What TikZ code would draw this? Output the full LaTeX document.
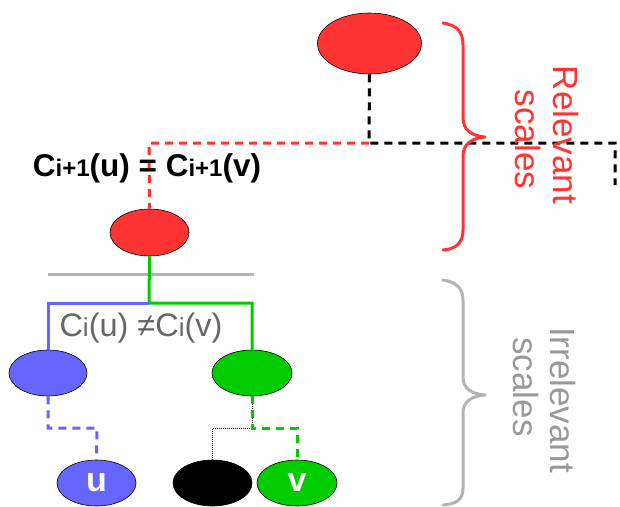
\documentclass[tikz,border=0pt]{standalone}
\usepackage{fontspec}
\setmainfont{Liberation Sans}
\usetikzlibrary{calc,shapes.geometric}
\definecolor{myred}{HTML}{FF3333}
\definecolor{myblue}{HTML}{6666FF}
\definecolor{mygreen}{HTML}{00CC00}
\definecolor{lgray}{HTML}{B3B3B3}
\definecolor{tgray}{HTML}{666666}
\definecolor{sgray}{HTML}{999999}
\newcommand{\fs}[1]{\fontsize{#1}{#1}\selectfont}
\begin{document}
\begin{tikzpicture}[x=1pt,y=-1pt,
  ell/.style={ellipse,draw=black,line width=0.6pt,inner sep=0pt,minimum width=80pt,minimum height=47pt},
  dsh/.style={line width=3pt,dash pattern=on 8pt off 6pt},
  sol/.style={line width=3pt},
  brace/.style={line width=3pt,line cap=round,line join=round}]
\useasboundingbox (0,0) rectangle (620,506);
% nodes
\node[ell,fill=myred,minimum width=104pt,minimum height=61pt] (top) at (369.5,43.5) {};
\node[ell,fill=myred,minimum width=79pt,minimum height=47pt] (mid) at (149.5,232.5) {};
\node[ell,fill=myblue,minimum width=78pt,minimum height=46pt] (bl) at (48,373) {};
\node[ell,fill=mygreen,minimum width=80pt,minimum height=46pt] (gr) at (252,373) {};
\node[ell,fill=myblue,minimum width=79pt,minimum height=46pt] (u) at (96.5,483) {\fs{34}\bfseries\color{white}u};
\node[ell,fill=black,minimum width=79pt,minimum height=46pt] (blk) at (212.5,483) {};
\node[ell,fill=mygreen,minimum width=80pt,minimum height=46pt] (v) at (297,483) {\fs{34}\bfseries\color{white}v};
% coordinates
\coordinate (c1) at (369,143);
\coordinate (c2) at (615,143);
\coordinate (c3) at (615,185);
\coordinate (r1) at (149,143);
\coordinate (g1) at (149,303);
\coordinate (b1) at (48,303);
\coordinate (g2) at (252,303);
\coordinate (gl) at (48,274);
\coordinate (gr2) at (254,274);
\coordinate (bd1) at (48,428);
\coordinate (bd2) at (97,428);
\coordinate (gd1) at (252,428);
\coordinate (gd2) at (297,428);
\coordinate (kd) at (212.5,428);
% connectors
\draw[dsh,black] (top.south) -- (c1) -- (c2) -- (c3);
\draw[dsh,myred] (c1) -- (r1) -- (mid.north);
\draw[line width=3pt,lgray] (gl) -- (gr2);
\draw[sol,mygreen] (mid.south) -- (g1) -- (g2) -- (gr.north);
\draw[sol,myblue] (g1) -- (b1) -- (bl.north);
\draw[dsh,myblue] (bl.south) -- (bd1) -- (bd2) -- (u.north);
\draw[black,line width=0.6pt,dash pattern=on 1pt off 1pt] (gr.south) -- (gd1) -- (kd) -- (blk.north);
\draw[dsh,mygreen] (gr.south) -- (gd1) -- (gd2) -- (v.north);
% texts
\node[anchor=center,inner sep=0pt] (t1) at (147,168) {\fs{31.5}\bfseries C{\fs{24}i+1}(u) = C{\fs{24}i+1}(v)};
\node[anchor=center,inner sep=0pt,text=tgray] (t2) at (141,328) {\fs{32.5}C{\fs{26}i}(u) ≠C{\fs{26}i}(v)};
% braces
\draw[brace,myred] (443,23) .. controls (456,25) and (463,31) .. (463,45) -- (463,118) .. controls (463,130) and (472,136) .. (485,137) .. controls (472,138) and (463,144) .. (463,156) -- (463,230) .. controls (463,243) and (456,249) .. (443,250);
\draw[brace,lgray] (443,280) .. controls (456,282) and (463,288) .. (463,300) -- (463,377) .. controls (463,389) and (472,394) .. (485,395) .. controls (472,396) and (463,401) .. (463,413) -- (463,488) .. controls (463,500) and (456,504) .. (443,505);
\node[rotate=-90,text=myred,inner sep=0pt] (rel) at (566,135) {\fs{35}Relevant};
\node[rotate=-90,text=myred,inner sep=0pt] (rsc) at (528,139.5) {\fs{35}scales};
\node[rotate=-90,text=sgray,inner sep=0pt] (irr) at (563,400) {\fs{35}Irrelevant};
\node[rotate=-90,text=sgray,inner sep=0pt] (isc) at (526,387) {\fs{35}scales};
\end{tikzpicture}
\end{document}
